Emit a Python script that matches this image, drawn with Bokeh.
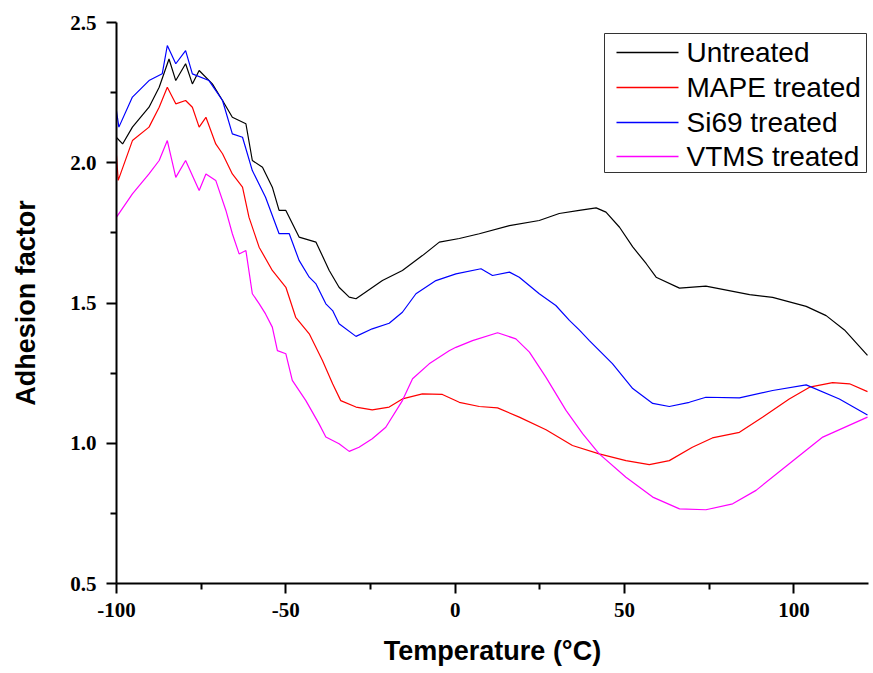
from bokeh.plotting import figure
from bokeh.models import FixedTicker, Range1d
from bokeh.core.properties import value
from bokeh.embed import file_html
from bokeh.resources import INLINE

# ---------------- data ----------------
untreated_x = [-100, -98.2, -95.3, -90.4, -87.4, -84.5, -82.5, -79.6, -77.6, -75.6, -71.7, -68.7,
               -65.8, -61.8, -59.9, -56.9, -54, -52, -50, -46.1, -41.1, -37.2, -34.3, -31.3,
               -29.3, -26.4, -21.5, -15.6, -9.7, -4.7, 1.2, 7.1, 16, 24.8, 30.7, 36.6, 41.6,
               44.5, 48.5, 52.4, 56.4, 59.3, 66.2, 74, 86.9, 93.7, 103.6, 109.5, 114.9, 121.7]
untreated_y = [2.09, 2.067, 2.127, 2.198, 2.269, 2.37, 2.293, 2.353, 2.281, 2.329, 2.281, 2.222,
               2.162, 2.139, 2.008, 1.984, 1.913, 1.83, 1.83, 1.735, 1.717, 1.616, 1.556, 1.521,
               1.515, 1.539, 1.58, 1.616, 1.669, 1.717, 1.73, 1.747, 1.776, 1.794, 1.819, 1.83, 1.839,
               1.824, 1.77, 1.70, 1.64, 1.592, 1.553, 1.56, 1.53, 1.52, 1.488, 1.455, 1.404, 1.313]

mape_x = [-100, -99.5, -95.3, -90.4, -87.4, -85, -82.5, -79.6, -77.6, -75.6, -73.6, -70.7, -68.7,
          -65.8, -62.8, -60.9, -57.9, -54, -50, -47.1, -43.1, -39.2, -36.2, -33.8, -29.3, -24.5,
          -19.5, -15.6, -9.7, -3.8, 1.2, 7.1, 12.5, 18.9, 26.8, 34.6, 42.5, 50.4, 57.3, 63.2, 70,
          75.9, 83.9, 90.7, 98.6, 104.6, 111.4, 116.4, 121.7]
mape_y = [2.026, 1.937, 2.079, 2.127, 2.198, 2.269, 2.21, 2.222, 2.198, 2.127, 2.162, 2.067, 2.032,
          1.96, 1.913, 1.806, 1.699, 1.616, 1.556, 1.449, 1.39, 1.295, 1.212, 1.152, 1.129, 1.119,
          1.129, 1.158, 1.176, 1.174, 1.146, 1.131, 1.126, 1.093, 1.048, 0.992, 0.962, 0.938, 0.924,
          0.938, 0.986, 1.019, 1.039, 1.093, 1.158, 1.2, 1.216, 1.212, 1.184]

si69_x = [-100, -99.3, -95.3, -90.4, -86.5, -85, -82.5, -79.6, -77.6, -72.7, -68.7, -65.8, -62.8,
          -59.9, -56, -52, -49, -46.1, -43.1, -41.1, -38.2, -36.2, -34.3, -29.3, -24.5, -19.5,
          -15.6, -11.6, -5.7, 0.2, 7.6, 11, 16, 18.9, 24.8, 29.7, 33.7, 36.6, 39.6, 46.4, 52.4,
          58.3, 63.2, 69.1, 74, 83.9, 93.7, 103.6, 113.4, 121.7]
si69_y = [2.184, 2.127, 2.234, 2.293, 2.317, 2.418, 2.353, 2.40, 2.317, 2.293, 2.222, 2.103, 2.091,
          1.972, 1.877, 1.747, 1.747, 1.652, 1.592, 1.568, 1.497, 1.473, 1.426, 1.381, 1.408, 1.428,
          1.467, 1.533, 1.58, 1.604, 1.622, 1.598, 1.61, 1.592, 1.533, 1.491, 1.438, 1.404, 1.366,
          1.284, 1.195, 1.142, 1.131, 1.146, 1.164, 1.162, 1.188, 1.208, 1.158, 1.101]

vtms_x = [-100, -95.3, -90.4, -87.4, -85, -82.5, -79.6, -75.6, -73.6, -70.7, -67.7, -65.8, -63.8,
          -61.8, -59.9, -57.9, -56, -54, -52.5, -50, -48.1, -44.1, -40.2, -38.2, -34.3, -31.3,
          -28.4, -24.5, -20.5, -15.6, -12.6, -7.7, -1.8, 0.2, 5.1, 12.5, 17.9, 21.9, 26.8, 32.7,
          37.6, 42.5, 50.4, 58.3, 66.2, 74, 81.9, 88.8, 98.6, 108.5, 121.7]
vtms_y = [1.806, 1.889, 1.96, 2.008, 2.079, 1.948, 2.008, 1.901, 1.96, 1.937, 1.83, 1.747, 1.675,
          1.687, 1.533, 1.498, 1.461, 1.414, 1.33, 1.319, 1.224, 1.152, 1.069, 1.022, 0.998, 0.971,
          0.986, 1.016, 1.057, 1.152, 1.23, 1.283, 1.33, 1.342, 1.366, 1.394, 1.372, 1.325, 1.235,
          1.117, 1.034, 0.962, 0.879, 0.808, 0.766, 0.763, 0.784, 0.832, 0.927, 1.022, 1.093]

series_names = ["Untreated", "MAPE treated", "Si69 treated", "VTMS treated"]
series_colors = ["#000000", "#FF0000", "#0000FF", "#FF00FF"]

x_major = [-100, -50, 0, 50, 100]
x_minor = [-75, -25, 25, 75]
x_labels = ["-100", "-50", "0", "50", "100"]
y_major = [0.5, 1.0, 1.5, 2.0, 2.5]
y_minor = [0.75, 1.25, 1.75, 2.25]
y_labels = ["0.5", "1.0", "1.5", "2.0", "2.5"]

# ---------------- figure ----------------
X0, X1, Y0, Y1 = -100, 122, 0.5, 2.5
FRAME_L, FRAME_T, FRAME_W, FRAME_H = 116, 22, 752, 561

p = figure(width=873, height=673, output_backend="svg", toolbar_location=None,
           x_range=Range1d(X0, X1), y_range=Range1d(Y0, Y1),
           min_border_left=FRAME_L, min_border_right=873 - FRAME_L - FRAME_W,
           min_border_top=FRAME_T, min_border_bottom=673 - FRAME_T - FRAME_H)
p.outline_line_color = None
p.xgrid.visible = False
p.ygrid.visible = False
p.background_fill_color = "white"
p.border_fill_color = "white"

for xs, ys, c in [(untreated_x, untreated_y, series_colors[0]),
                  (mape_x, mape_y, series_colors[1]),
                  (si69_x, si69_y, series_colors[2]),
                  (vtms_x, vtms_y, series_colors[3])]:
    p.line(xs, ys, line_color=c, line_width=1.2)

for ax, major, minor in [(p.xaxis[0], x_major, x_minor), (p.yaxis[0], y_major, y_minor)]:
    ax.ticker = FixedTicker(ticks=major, minor_ticks=minor)
    ax.axis_line_width = 2
    ax.axis_line_color = "black"
    ax.major_tick_line_width = 2
    ax.minor_tick_line_width = 2
    ax.major_tick_in = 0
    ax.major_tick_out = 10
    ax.minor_tick_in = 0
    ax.minor_tick_out = 6
    ax.major_label_text_font = "Times New Roman"
    ax.major_label_text_font_style = "bold"
    ax.major_label_text_font_size = "21px"
    ax.major_label_text_color = "black"
    ax.axis_label_text_font = "Liberation Sans"
    ax.axis_label_text_font_style = "bold"
    ax.axis_label_text_font_size = "27px"
    ax.axis_label_text_color = "black"

p.xaxis[0].axis_label = "Temperature (°C)"
p.xaxis[0].major_label_standoff = 9
p.xaxis[0].axis_label_standoff = 16
p.xaxis[0].major_label_overrides = {v: s for v, s in zip(x_major, x_labels)}
p.yaxis[0].axis_label = "Adhesion factor"
p.yaxis[0].major_label_standoff = 10
p.yaxis[0].axis_label_standoff = 26
p.yaxis[0].major_label_overrides = {v: s for v, s in zip(y_major, y_labels)}

# ---------------- legend (drawn by hand, positions given in pixels) ----------------
def dx(px):
    return X0 + (px - FRAME_L) * (X1 - X0) / FRAME_W

def dy(py):
    return Y0 + (FRAME_T + FRAME_H - py) * (Y1 - Y0) / FRAME_H

p.quad(left=[dx(604)], right=[dx(866)], top=[dy(33)], bottom=[dy(172)],
       fill_color="white", line_color="#333333", line_width=1)
row_py = [52, 87, 122, 156]
p.text(x=[dx(686)] * 4, y=[dy(py) for py in row_py], text=series_names,
       text_font=value("Liberation Sans"), text_font_size="28px",
       text_baseline="middle", text_align="left", text_color="black")
p.multi_line(xs=[[dx(616), dx(678)] for _ in row_py],
             ys=[[dy(py), dy(py)] for py in row_py],
             line_color=series_colors, line_width=1.3)

open("out.html", "w").write(file_html(p, INLINE))
